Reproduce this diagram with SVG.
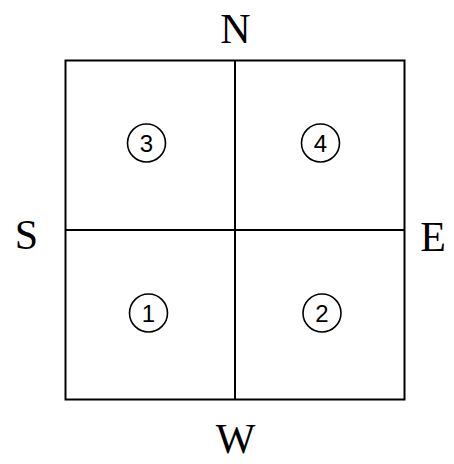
<svg xmlns="http://www.w3.org/2000/svg" width="454" height="464" viewBox="0 0 454 464">
<style>
.dir{font-family:"Liberation Serif","Times New Roman",serif;font-size:42px;fill:#000;text-anchor:middle}
.num{font-family:"Liberation Sans",Arial,sans-serif;font-size:24px;fill:#000;text-anchor:middle}
.ring{fill:none;stroke:#000;stroke-width:1.6}
.line{fill:none;stroke:#000;stroke-width:2}
</style>
<rect x="0" y="0" width="454" height="464" fill="#fff"/>
<g id="grid">
<rect class="line" x="65.5" y="60.5" width="339" height="339"/>
<line class="line" x1="235" y1="60.5" x2="235" y2="399.5"/>
<line class="line" x1="65.5" y1="230" x2="404.5" y2="230"/>
</g>
<g id="labels">
<text class="dir" x="235.5" y="43">N</text>
<text class="dir" x="235.5" y="453">W</text>
<text class="dir" x="26.5" y="249">S</text>
<text class="dir" x="433" y="251">E</text>
</g>
<g id="q3"><circle class="ring" cx="146.5" cy="143" r="19"/><text class="num" x="146.5" y="152">3</text></g>
<g id="q4"><circle class="ring" cx="320.5" cy="143" r="19"/><text class="num" x="320.5" y="152">4</text></g>
<g id="q1"><circle class="ring" cx="148.5" cy="313" r="19"/><text class="num" x="148.5" y="322">1</text></g>
<g id="q2"><circle class="ring" cx="322" cy="313" r="19"/><text class="num" x="322" y="322">2</text></g>
</svg>
